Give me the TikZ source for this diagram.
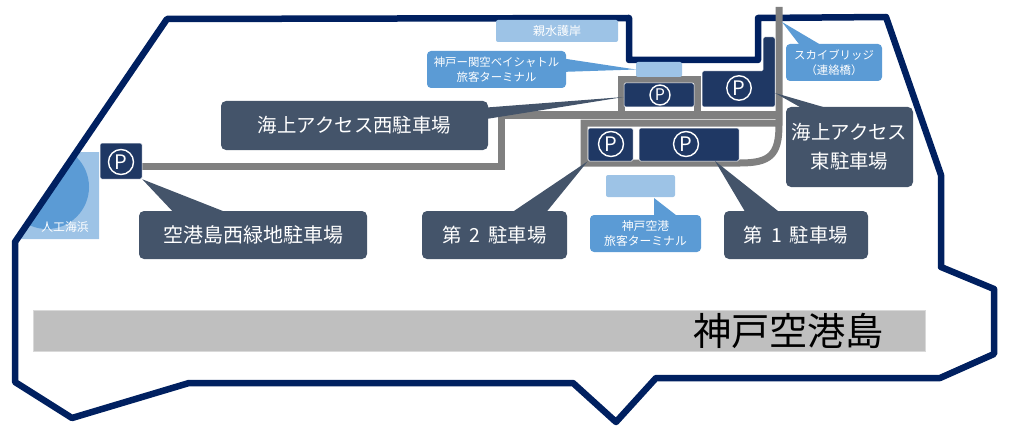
\documentclass[tikz,border=0pt]{standalone}
\usepackage{fontspec}
\setmainfont{Noto Sans CJK JP}
\usetikzlibrary{shapes.geometric, calc}
\definecolor{coast}{HTML}{002060}
\definecolor{parkblue}{HTML}{1F3864}
\definecolor{slate}{HTML}{44546A}
\definecolor{midblue}{HTML}{5B9BD5}
\definecolor{paleblue}{HTML}{9DC3E6}
\tikzstyle{road} = [line width=7pt, color=black!50, line join=miter]
\tikzstyle{parking} = [rectangle, rounded corners=1.5pt, fill=parkblue, draw=white, line width=0.5pt, inner sep=0pt]
\tikzstyle{pmark} = [circle, draw=white, line width=1.4pt, text=white, inner sep=0pt, font=\fontsize{20}{20}\selectfont]
\tikzstyle{lotlabel} = [rectangle, rounded corners=5pt, fill=slate, text=white, align=center, inner sep=0pt, font=\fontsize{19.4}{29}\selectfont]
\tikzstyle{infolabel} = [rectangle, rounded corners=4pt, fill=midblue, text=white, align=center, inner sep=0pt, font=\fontsize{11.4}{15.5}\selectfont]
\tikzstyle{terminal} = [rectangle, rounded corners=2pt, fill=paleblue, text=white, inner sep=0pt, font=\fontsize{12}{12}\selectfont]
\begin{document}
\begin{tikzpicture}[x=1pt, y=-1pt]
	\useasboundingbox (0,0) rectangle (1024,441);
	% runway
	\node(runway)[rectangle, fill=black!25, draw=black!15, line width=0.5pt, minimum width=892pt, minimum height=41pt, inner sep=0pt] at (479,330.5) {};
	\node(islandname)[inner sep=0pt, font=\fontsize{38.2}{38}\selectfont] at (788.5,331) {神戸空港島};
	% beach
	\begin{scope}
		\clip (20,239) -- (76,152) -- (99,152) -- (99,239) -- cycle;
		\fill[paleblue] (20,239) -- (76,152) -- (99,152) -- (99,239) -- cycle;
		\fill[midblue] (47,187) circle (42);
	\end{scope}
	\node(beach)[inner sep=0pt, text=white, font=\fontsize{11.8}{12}\selectfont] at (65,227) {人工海浜};
	% island outline
	\draw[color=coast, line width=6.5pt, line join=round] (167,19) -- (629,18) -- (629,60) -- (758,60) -- (758,18) -- (886,17) -- (941,175) -- (941,267) -- (994,289) -- (994,354) -- (940,378) -- (656,378) -- (616,422) -- (573,383) -- (189,383) -- (72,418) -- (15,382) -- (15,242) -- cycle;
	% roads
	\draw[road] (142,166) -- (501,166) -- (501,115) -- (779,115);
	\draw[road] (621,115) -- (621,80) -- (697,80) -- (697,115);
	\draw[road] (779,123) -- (584,123) -- (584,163) -- (740,163) .. controls (770,163) and (779,155) .. (779,125) -- (779,7);
	% parking lots
	\node(lotwest)[parking, minimum width=42pt, minimum height=36pt] at (121,161) {};
	\node(lotseawest)[parking, minimum width=70pt, minimum height=24pt] at (659,95) {};
	\node(lotone)[parking, minimum width=100pt, minimum height=33pt] at (689,144.5) {};
	\node(lottwo)[parking, minimum width=45pt, minimum height=33pt] at (610.5,144.5) {};
	\draw[parking] (702,71) -- (763,71) -- (763,37) -- (775,37) -- (775,107) -- (702,107) -- cycle;
	\node(pwest)[pmark, minimum size=25pt] at (121,162) {P};
	\node(pseawest)[pmark, minimum size=20pt, font=\fontsize{16}{16}\selectfont] at (660,95) {P};
	\node(pseaeast)[pmark, minimum size=24.5pt] at (739,88) {P};
	\node(ptwo)[pmark, minimum size=25pt] at (611,144) {P};
	\node(pone)[pmark, minimum size=25pt] at (686,144) {P};
	% terminals
	\node(shore)[terminal, minimum width=122pt, minimum height=22pt] at (557,31) {親水護岸};
	\node(termbay)[terminal, minimum width=46pt, minimum height=15pt] at (659,69.5) {};
	\node(termkobe)[terminal, minimum width=69pt, minimum height=22pt] at (640.5,186) {};
	% callout pointers
	\fill[slate] (lotseawest.west) ++(0,2) -- (480,108) -- (480,120) -- cycle;
	\fill[slate] (lotwest.south east) -- (176,215) -- (233,215) -- cycle;
	\fill[slate] (lottwo.south west) -- (508,215) -- (544,215) -- cycle;
	\fill[slate] (715,161) -- (747,215) -- (783,215) -- cycle;
	\fill[slate] (775,93) -- (807,111) -- (837,111) -- cycle;
	\fill[midblue] (782,22) -- (802,48) -- (826,48) -- cycle;
	\fill[midblue] (termbay.west) -- (560,58) -- (560,72) -- cycle;
	\fill[midblue] (654,198) -- (654,219) -- (681,219) -- cycle;
	% labels
	\node(labelseawest)[lotlabel, minimum width=267pt, minimum height=49pt] at (354.5,125.5) {海上アクセス西駐車場};
	\node(labelwest)[lotlabel, minimum width=228pt, minimum height=48pt, font=\fontsize{20}{29}\selectfont] at (253,235) {空港島西緑地駐車場};
	\node(labeltwo)[lotlabel, minimum width=145pt, minimum height=48pt] at (494.5,235) {第\hspace{3.5pt} 2\hspace{3.5pt} 駐車場};
	\node(labelone)[lotlabel, minimum width=144pt, minimum height=48pt] at (796,235) {第\hspace{3.5pt} 1\hspace{3.5pt} 駐車場};
	\node(labelseaeast)[lotlabel, minimum width=127pt, minimum height=80pt] at (849.5,147) {海上アクセス\\東駐車場};
	\node(labelbridge)[infolabel, minimum width=96pt, minimum height=37pt] at (834,62.5) {スカイブリッジ\\（連絡橋）};
	\node(labelbay)[infolabel, minimum width=139pt, minimum height=37pt] at (496.5,69.5) {神戸ー関空ベイシャトル\\旅客ターミナル};
	\node(labelkobe)[infolabel, minimum width=111pt, minimum height=37pt, font=\fontsize{11.8}{15}\selectfont] at (645.5,233.5) {神戸空港\\旅客ターミナル};
\end{tikzpicture}
\end{document}
